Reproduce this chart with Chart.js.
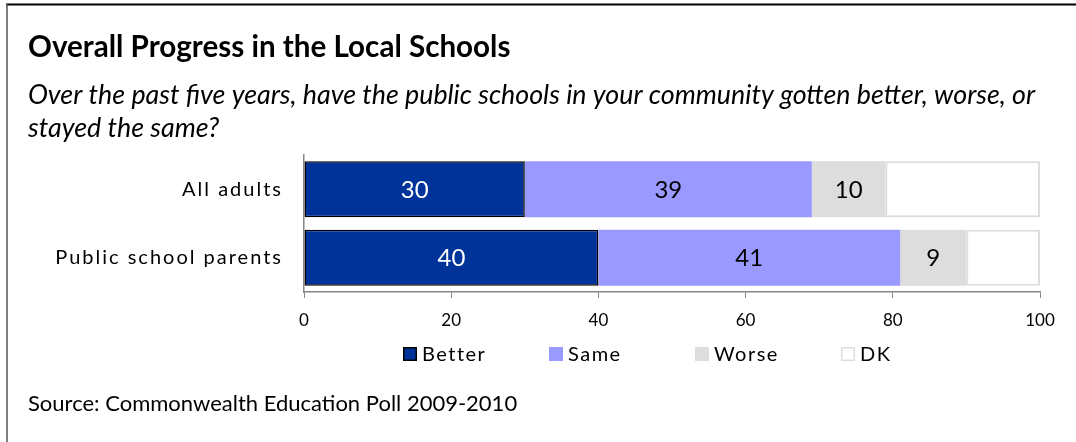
<!DOCTYPE html>
<html>
<head>
<meta charset="utf-8">
<title>Overall Progress in the Local Schools</title>
<script src="https://cdn.jsdelivr.net/npm/chart.js@4.4.1/dist/chart.umd.min.js"></script>
<style>
  html, body { margin: 0; padding: 0; background: #fff; }
</style>
</head>
<body>
<canvas id="progressChart" width="1076" height="442"></canvas>
<script>
// poll results, percent of respondents
const groups = ['All adults', 'Public school parents'];
const seriesNames = ['Better', 'Same', 'Worse', 'DK'];
const better = [30, 40];
const same = [39, 41];
const worse = [10, 9];
const dk = [21, 10];
const xTicks = [0, 20, 40, 60, 80, 100];

const titleText = 'Overall Progress in the Local Schools';
const questionLines = [
    'Over the past five years, have the public schools in your community gotten better, worse, or',
    'stayed the same?'
];
const sourceText = 'Source: Commonwealth Education Poll 2009-2010';

const FONT = 'Lato, "Open Sans", sans-serif';
const AXIS_GREY = '#868686';

// heading, question, source line, frame and legend row
const pageText = {
    id: 'pageText',
    beforeDraw(chart) {
        const ctx = chart.ctx;
        ctx.save();
        ctx.fillStyle = '#fff';
        ctx.fillRect(0, 0, chart.width, chart.height);

        ctx.strokeStyle = '#000';
        ctx.lineWidth = 2;
        ctx.beginPath();
        ctx.moveTo(6, 4.5);
        ctx.lineTo(chart.width, 4.5);
        ctx.stroke();
        ctx.strokeStyle = '#555';
        ctx.lineWidth = 1.5;
        ctx.beginPath();
        ctx.moveTo(7, 4);
        ctx.lineTo(7, chart.height);
        ctx.stroke();

        ctx.fillStyle = '#000';
        ctx.textAlign = 'left';
        ctx.textBaseline = 'alphabetic';
        ctx.font = 'bold 29.6px ' + FONT;
        ctx.fillText(titleText, 28, 57);
        ctx.font = 'italic 26.8px ' + FONT;
        questionLines.forEach((line, i) => ctx.fillText(line, 28, 104 + i * 33));
        ctx.font = '22px ' + FONT;
        ctx.fillText(sourceText, 28, 411);
        ctx.restore();

        // category labels are drawn spaced out
        ctx.letterSpacing = '2px';
    },
    beforeDatasetsDraw(chart) {
        chart.ctx.letterSpacing = '0px';
    },
    afterDraw(chart) {
        const ctx = chart.ctx;
        ctx.save();
        ctx.font = '20px ' + FONT;
        ctx.letterSpacing = '1.5px';
        ctx.textBaseline = 'middle';
        chart.data.datasets.forEach((ds, i) => {
            const x = 403 + i * 146;
            const y = 354;
            ctx.fillStyle = ds.backgroundColor;
            ctx.fillRect(x, y - 7, 14, 14);
            ctx.strokeStyle = ds.legendBorder;
            ctx.lineWidth = 1.5;
            ctx.strokeRect(x + 0.75, y - 6.25, 12.5, 12.5);
            ctx.fillStyle = '#000';
            ctx.fillText(ds.label, x + 19, y + 1);
        });
        ctx.restore();
        ctx.letterSpacing = '0px';
    }
};

// numbers in the middle of each segment
const barValues = {
    id: 'barValues',
    afterDatasetsDraw(chart) {
        const ctx = chart.ctx;
        ctx.save();
        ctx.font = '24px ' + FONT;
        ctx.textAlign = 'center';
        ctx.textBaseline = 'middle';
        chart.data.datasets.forEach((ds, i) => {
            if (!ds.showValue) return;
            chart.getDatasetMeta(i).data.forEach((bar, j) => {
                ctx.fillStyle = ds.valueColor;
                ctx.fillText(ds.data[j], (bar.x + bar.base) / 2, bar.y + 1);
            });
        });
        ctx.restore();
    }
};

const ctx = document.getElementById('progressChart').getContext('2d');
new Chart(ctx, {
    type: 'bar',
    data: {
        labels: groups,
        datasets: [{
            label: seriesNames[0],
            data: better,
            backgroundColor: '#003399',
            borderColor: '#000',
            legendBorder: '#000',
            borderWidth: 1.5,
            borderSkipped: false,
            showValue: true,
            valueColor: '#fff'
        }, {
            label: seriesNames[1],
            data: same,
            backgroundColor: '#9999ff',
            legendBorder: '#9999ff',
            borderWidth: 0,
            showValue: true,
            valueColor: '#000'
        }, {
            label: seriesNames[2],
            data: worse,
            backgroundColor: '#dddddd',
            legendBorder: '#dddddd',
            borderWidth: 0,
            showValue: true,
            valueColor: '#000'
        }, {
            label: seriesNames[3],
            data: dk,
            backgroundColor: '#ffffff',
            borderColor: '#dddddd',
            legendBorder: '#dddddd',
            borderWidth: 2,
            borderSkipped: false,
            showValue: false
        }]
    },
    options: {
        indexAxis: 'y',
        responsive: false,
        animation: false,
        barPercentage: 0.9,
        categoryPercentage: 0.91,
        layout: { padding: { top: 155, right: 36, bottom: 0, left: 0 } },
        plugins: {
            legend: { display: false },
            title: { display: false },
            tooltip: { enabled: false }
        },
        scales: {
            x: {
                stacked: true,
                min: 0,
                max: 100,
                afterFit: s => { s.height = 150; },
                afterBuildTicks: s => { s.ticks = xTicks.map(v => ({ value: v })); },
                grid: { drawOnChartArea: false, drawTicks: true, tickLength: 6, color: AXIS_GREY },
                border: { color: AXIS_GREY, width: 1.5 },
                // z above 0 puts these after the spaced-out category labels
                ticks: { color: '#000', font: { family: FONT, size: 17 }, padding: 12, maxRotation: 0, z: 1 }
            },
            y: {
                stacked: true,
                afterFit: s => { s.width = 304; },
                grid: { display: false },
                border: { color: AXIS_GREY, width: 1.5 },
                ticks: { color: '#000', font: { family: FONT, size: 20 }, padding: 13 }
            }
        }
    },
    plugins: [pageText, barValues]
});
</script>
</body>
</html>
